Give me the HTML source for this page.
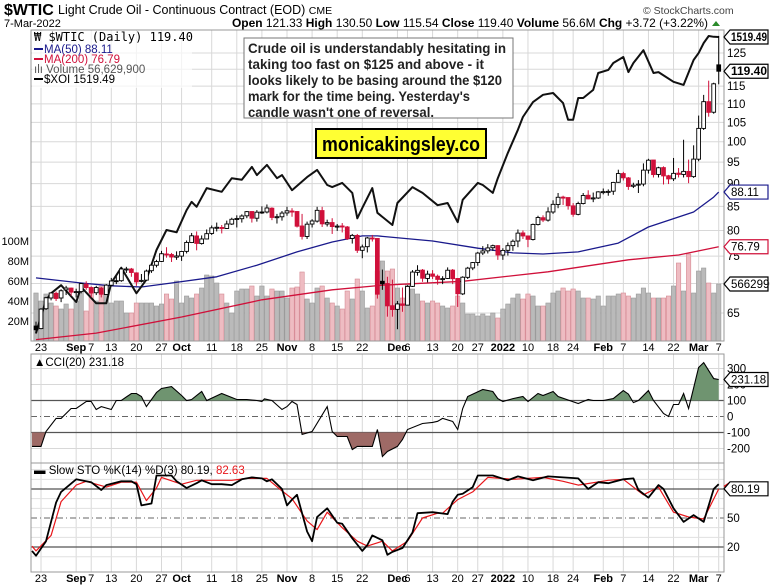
<!DOCTYPE html>
<html><head><meta charset="utf-8"><style>
html,body{margin:0;padding:0;background:#fff;}
svg{display:block;font-family:"Liberation Sans",sans-serif;}
</style></head><body>
<svg id="chart" width="770" height="586" viewBox="0 0 770 586" xmlns="http://www.w3.org/2000/svg">
<rect x="0" y="0" width="770" height="586" fill="#fff"/>
<g>
<text x="4" y="15" font-size="16" font-weight="bold">$WTIC</text>
<text x="58" y="14" font-size="12.5">Light Crude Oil - Continuous Contract (EOD) <tspan font-size="10.5">CME</tspan></text>
<text x="4" y="27" font-size="11">7-Mar-2022</text>
<text x="643" y="14" font-size="10.5" fill="#444">© StockCharts.com</text>
<text x="232" y="27" font-size="12" textLength="476" lengthAdjust="spacingAndGlyphs"><tspan font-weight="bold">Open</tspan> 121.33 <tspan font-weight="bold">High</tspan> 130.50 <tspan font-weight="bold">Low</tspan> 115.54 <tspan font-weight="bold">Close</tspan> 119.40 <tspan font-weight="bold">Volume</tspan> 56.6M <tspan font-weight="bold">Chg</tspan> +3.72 (+3.22%)</text>
<polygon points="712,26 720,26 716,21" fill="#2a8a2a"/>
</g>
<g id="grid"></g>
<g id="main"></g>
<g id="cci"></g>
<g id="sto"></g>
<g id="axes"></g>
<g font-size="11.5">
<rect x="32" y="31" width="160" height="57" fill="#fff" fill-opacity="0.7"/>
<text x="34" y="41" font-family="'DejaVu Sans Mono','Liberation Mono',monospace" font-size="12">₩ $WTIC (Daily) 119.40</text>
<line x1="34" y1="49" x2="43" y2="49" stroke="#1a1a8c" stroke-width="2"/>
<text x="44" y="53" fill="#1a1a8c">MA(50) 88.11</text>
<line x1="34" y1="59" x2="43" y2="59" stroke="#d0103a" stroke-width="2"/>
<text x="44" y="63" fill="#d0103a">MA(200) 76.79</text>
<text x="34" y="73" fill="#555">ılı Volume 56,629,900</text>
<line x1="34" y1="79" x2="43" y2="79" stroke="#000" stroke-width="2"/>
<text x="44" y="83">$XOI 1519.49</text>
</g>
<g>
<rect x="244" y="38" width="269" height="80" fill="#fff" stroke="#777" stroke-width="1"/>
<g font-size="14" font-weight="bold" fill="#222">
<text x="248" y="53" textLength="258" lengthAdjust="spacingAndGlyphs">Crude oil is understandably hesitating in</text>
<text x="248" y="69" textLength="236" lengthAdjust="spacingAndGlyphs">taking too fast on $125 and above - it</text>
<text x="248" y="85" textLength="254" lengthAdjust="spacingAndGlyphs">looks likely to be basing around the $120</text>
<text x="248" y="101" textLength="222" lengthAdjust="spacingAndGlyphs">mark for the time being. Yesterday's</text>
<text x="248" y="117" textLength="186" lengthAdjust="spacingAndGlyphs">candle wasn't one of reversal.</text>
</g>
</g>
<g>
<rect x="316" y="129" width="170" height="29" fill="#ffff33" stroke="#000" stroke-width="2"/>
<text x="401" y="151" font-size="20" font-weight="bold" text-anchor="middle" textLength="158" lengthAdjust="spacingAndGlyphs">monicakingsley.co</text>
</g>
</svg>
<script>
// ---- data ----
const tickIdx = [1,8,11,15,20,25,29,35,40,45,50,55,60,65,72,74,79,84,88,93,98,103,107,113,117,122,127,132,136];
const tickLabels = ["23","Sep","7","13","20","27","Oct","11","18","25","Nov","8","15","22","Dec","6","13","20","27","2022","10","18","24","Feb","7","14","22","Mar","7"];
const tickBold = [0,1,0,0,0,0,1,0,0,0,1,0,0,0,1,0,0,0,0,1,0,0,0,1,0,0,0,1,0];
const opens = [62.9,62.5,65.7,67.5,68.3,67.5,68.9,69.2,68.5,68.6,69.9,69.3,68.4,69.2,68.1,69.7,70.5,70.5,72.6,72.6,71.9,70.4,70.6,72.3,73.3,74.0,75.4,75.3,74.8,75.0,75.9,77.6,78.9,77.4,78.3,79.4,80.5,80.6,80.4,81.3,82.3,82.4,83.0,83.9,82.5,83.8,83.8,84.6,82.7,82.8,83.6,84.0,83.9,80.9,78.8,81.3,81.9,84.1,81.3,81.6,80.8,80.9,80.7,78.4,79.0,76.1,76.8,78.5,78.4,70.4,70.0,66.2,65.6,66.5,66.3,69.5,72.0,72.4,70.9,71.7,71.3,70.7,70.9,72.4,70.9,68.2,71.1,72.8,73.8,75.6,76.0,76.6,77.0,75.2,76.1,77.0,77.9,79.5,78.9,78.2,81.2,82.6,82.1,83.8,85.4,87.0,86.9,85.1,83.3,85.6,87.4,86.6,86.8,88.2,88.2,88.3,90.3,92.3,91.3,89.4,89.7,89.9,93.1,95.5,92.1,93.7,91.8,91.1,92.4,92.1,92.8,91.6,95.7,103.4,110.6,107.7,121.33];
const highs = [63.6,65.8,67.7,68.5,68.6,69.0,69.6,69.3,69.1,70.1,70.4,69.5,69.6,69.4,69.9,71.0,71.3,72.8,73.0,72.8,72.0,71.7,72.5,73.6,74.3,76.0,76.7,75.6,75.9,76.0,78.0,79.5,79.8,79.0,80.2,81.0,81.6,81.1,82.0,82.6,83.1,83.3,84.0,83.9,84.2,85.0,85.4,84.8,83.4,84.0,84.9,84.6,84.0,83.4,81.8,82.3,84.9,84.9,82.2,82.5,81.3,81.5,80.9,79.3,79.3,77.2,78.7,79.1,78.4,72.5,71.2,70.7,67.0,69.3,69.7,72.4,73.3,72.6,72.3,72.4,71.6,71.3,72.9,72.6,70.9,71.3,73.0,73.9,75.8,76.9,77.3,77.2,77.1,76.5,77.6,78.2,80.2,80.0,79.0,81.4,83.0,83.1,84.8,86.3,87.9,87.3,86.9,85.7,86.0,87.9,88.5,88.0,88.3,88.9,88.7,90.4,93.2,92.7,91.5,90.2,90.8,94.7,95.8,95.5,93.9,94.0,92.0,96.0,93.6,100.5,95.6,99.1,106.8,112.5,116.6,116.0,130.5];
const lows = [61.7,62.4,65.5,67.1,67.0,66.8,68.0,67.9,67.6,68.3,68.9,67.6,68.0,67.6,68.0,69.5,69.9,70.3,71.9,71.2,69.6,70.2,70.5,71.9,72.9,73.9,74.7,73.9,74.3,74.1,75.5,77.5,76.1,77.2,78.2,79.1,79.8,79.4,80.3,81.1,80.6,81.6,82.5,81.6,81.8,83.4,83.5,82.1,81.4,82.0,83.0,82.8,80.6,78.2,78.3,80.6,81.6,80.7,80.8,79.3,79.9,79.6,78.1,77.4,75.6,74.6,75.7,77.8,67.4,68.9,64.4,64.4,62.4,65.2,66.5,69.4,71.4,70.3,70.2,70.8,69.8,69.9,70.8,69.9,66.0,68.0,70.8,72.4,73.2,75.2,75.5,76.0,74.3,74.3,75.1,76.0,76.7,78.3,76.7,78.0,81.0,81.7,81.8,83.4,84.6,85.3,84.3,82.8,83.1,85.4,86.5,85.9,86.6,87.6,87.3,87.5,90.2,90.7,88.6,89.0,87.9,89.4,92.3,91.4,91.4,89.8,89.9,90.6,91.4,91.4,90.1,91.3,95.2,103.0,106.5,107.3,115.54];
const closes = [62.32,65.64,67.54,68.36,67.42,68.74,69.21,68.50,68.59,69.99,69.29,68.35,69.30,68.14,69.72,70.45,70.46,72.61,72.61,71.97,70.29,70.56,72.23,73.30,73.98,75.45,75.29,74.83,75.03,75.88,77.62,78.93,77.43,78.30,79.35,80.52,80.64,80.44,81.31,82.28,82.44,82.96,83.87,82.50,83.76,83.76,84.65,82.66,82.81,83.57,84.05,83.91,80.86,78.81,81.27,81.93,84.15,81.34,81.59,80.79,80.88,80.76,78.36,79.01,76.10,76.75,78.50,78.39,68.15,69.95,66.18,65.57,66.50,66.26,69.49,72.05,72.36,70.94,71.67,71.29,70.73,70.87,72.38,70.86,68.23,71.12,72.76,73.79,75.57,75.98,76.56,76.99,75.21,76.08,76.99,77.85,79.46,78.90,78.23,81.22,82.64,82.12,83.82,85.43,86.96,86.90,85.14,83.31,85.60,87.35,86.61,86.82,88.15,88.20,88.26,90.27,92.31,91.32,89.36,89.66,89.88,93.10,95.46,92.07,93.66,91.76,91.07,92.35,92.10,92.81,91.59,95.72,103.41,110.60,107.67,115.68,119.40];
const volumes = [48,40,47,38,35,32,37,32,40,50,30,53,40,55,47,38,40,40,28,28,38,38,38,38,35,37,47,42,60,38,45,43,47,53,66,65,58,47,38,28,50,52,52,55,45,55,45,52,50,50,43,53,54,69,42,38,53,55,43,38,35,32,50,42,62,50,33,35,70,80,70,72,53,43,57,52,47,40,38,40,38,35,33,35,45,38,27,27,25,27,25,28,23,32,37,43,47,42,47,45,35,35,38,48,50,53,50,52,50,43,43,42,45,35,45,45,47,48,45,43,47,53,48,43,43,43,45,55,78,50,87,48,70,73,58,48,57];
const ma50Idx = [0,9,15,21,27,36,44,52,59,65,68,79,88,95,101,108,116,122,131,135,136];
const ma50Vals = [71.0,70.1,69.6,69.4,70.1,71.2,73.3,75.8,77.7,78.9,78.9,77.9,76.5,75.6,75.4,75.8,77.5,80.7,83.8,87.0,88.11];
const ma200Idx = [0,12,29,45,59,69,85,102,118,128,136];
const ma200Vals = [60.8,61.8,64.35,67.2,68.9,69.7,70.4,72.1,74.3,75.2,76.79];
const xoiIdx = [0,2,3,5,8,9,12,14,15,17,20,22,24,26,28,30,31,32,34,37,39,41,43,44,46,48,49,51,54,56,58,59,61,63,64,65,67,68,71,72,75,77,80,82,84,85,88,89,91,92,94,96,97,99,101,103,105,106,107,108,109,111,112,114,115,117,118,119,121,123,124,127,129,131,132,133,134,135,136];
const xoiVals = [949,1000,1011,1024,997,1021,995,995,1028,1053,1011,1033,1083,1118,1114,1154,1169,1160,1195,1188,1214,1211,1236,1220,1240,1214,1220,1191,1216,1230,1201,1197,1205,1186,1139,1158,1195,1149,1127,1167,1197,1186,1163,1167,1132,1173,1205,1201,1186,1214,1264,1311,1338,1370,1386,1390,1368,1332,1332,1379,1379,1397,1435,1442,1458,1472,1437,1458,1488,1435,1437,1415,1408,1465,1481,1505,1522,1520,1519.49];
const cciIdx = [-1,1,2,4,5,7,8,10,11,12,13,15,16,17,19,20,21,22,24,25,27,29,30,31,33,34,37,40,42,44,45,45.5,47,49,50,51,52,53,55,58,59,60,62,63,64,67,68,69,70,72,73,74,77,79,80,81,83,84,85,86,89,91,92,93,95,97,98,100,101,103,104,108,110,111,113,115,117,118,119,120,122,123,125,126,127,128,129,130,132,133,135,136];
const cciVals = [-187,-187,-94,-12,-12,50,50,94,94,44,62,44,100,100,144,144,125,62,150,175,187,131,100,106,156,100,144,106,106,100,94,110,100,44,62,94,75,-112,-94,62,-94,-125,-125,-206,-187,-187,-81,-250,-219,-187,-144,-81,-44,-37,-30,-12,-31,-81,50,125,169,156,112,94,112,125,94,144,131,156,125,81,106,100,100,112,162,140,87,100,162,100,19,0,75,75,144,50,306,337,237,231.18];
const stoKIdx = [-1,0,2,4,5,8,9,11,13,14,17,19,20,21,23,24,27,28,30,32,33,35,36,37,39,41,43,45,46,47,49,50,51,52,54,55,56,58,60,61,63,65,66,67,69,70,71,73,75,76,79,82,83,84,85,87,88,91,94,96,99,102,108,110,112,114,117,119,120,122,124,125,127,129,131,133,135,136];
const stoKVals = [16,11,26,66,77,90,89,87,79,84,88,88,85,63,65,94,94,88,81,86,89,85,85,85,84,90,92,91,88,90,80,63,69,74,36,26,51,60,45,44,29,16,22,32,27,12,15,19,35,55,56,54,67,74,75,82,94,94,89,93,89,93,91,80,87,86,90,91,79,71,84,80,60,46,53,46,80,85,80.19];
const stoDIdx = [-1,0,3,5,8,10,14,17,20,22,24,25,29,32,36,39,42,46,49,51,54,56,58,61,64,66,69,71,74,77,80,81,84,87,90,95,101,105,108,114,117,121,124,127,130,133,136];
const stoDVals = [21,16,32,67,84,88,82,87,87,68,81,92,85,89,89,89,91,91,78,70,47,38,56,40,26,21,26,16,26,50,55,55,69,77,92,90,92,88,84,89,90,74,82,56,51,49,80,82.63];

// ---- scales ----
const X = i => 36 + 5.02 * i;
const Yp = p => 313 - 397.6 * Math.log(p / 65);
const Yv = v => 341 - v;
const Yx = v => 37 - 629 * Math.log(v / 1519.49);
const Yc = c => 416.5 - 0.16 * c;
const Ys = s => 489 - (s - 80) * 0.967;

const NS = "http://www.w3.org/2000/svg";
function mk(tag, attrs, parent) {
  const el = document.createElementNS(NS, tag);
  for (const k in attrs) el.setAttribute(k, attrs[k]);
  parent.appendChild(el);
  return el;
}
const gGrid = document.getElementById('grid');
const gMain = document.getElementById('main');
const gCci = document.getElementById('cci');
const gSto = document.getElementById('sto');
const gAxes = document.getElementById('axes');

const L = 31, R = 724;
const panels = [[30, 341], [354, 463], [463, 572]];

tickIdx.forEach((ti, k) => {
  panels.forEach(pp => {
    const ln = mk('line', {x1: X(ti), x2: X(ti), y1: pp[0], y2: pp[1], stroke: '#d8d8d8', 'stroke-width': 1}, gGrid);
    
    
  });
});
const priceTicks = [65,70,75,80,85,90,95,100,105,110,115,120,125];
const priceLabelShow = [1,0,1,1,1,1,1,1,1,1,1,0,1];
priceTicks.forEach((p, k) => {
  const ln = mk('line', {x1: L, x2: R, y1: Yp(p), y2: Yp(p), stroke: '#d8d8d8', 'stroke-width': 1}, gGrid);
  
  
  if (priceLabelShow[k]) {
    const t = mk('text', {x: 727, y: Yp(p) + 4, 'font-size': 11.5}, gAxes);
    t.textContent = p;
    
    
  }
});
const volTicks = [20,40,60,80,100];
volTicks.forEach(v => {
  const t = mk('text', {x: 29, y: Yv(v) + 4, 'font-size': 11, 'text-anchor': 'end'}, gAxes);
  t.textContent = v + 'M';
  
  
});
volumes.forEach((v, i) => {
  const down = i > 0 && closes[i] < closes[i-1];
  const r = mk('rect', {x: X(i) - 2.2, y: Yv(v), width: 4.4, height: v, fill: down ? '#eebcc2' : '#bababa', stroke: down ? '#d68a94' : '#9a9a9a', 'stroke-width': 0.6}, gMain);
  
  
});
function poly(idx, vals, yf, color, w, parent, name) {
  const pts = idx.map((ix, k) => X(ix).toFixed(1) + ',' + yf(vals[k]).toFixed(1)).join(' ');
  const pl = mk('polyline', {points: pts, fill: 'none', stroke: color, 'stroke-width': w, 'stroke-linejoin': 'round'}, parent);
  
  
  return pl;
}
const defs = mk('defs', {}, document.getElementById('chart'));
const cp = mk('clipPath', {id: 'mainclip'}, defs);
mk('rect', {x: L, y: 30, width: R - L, height: 311}, cp);
const gClip = mk('g', {'clip-path': 'url(#mainclip)'}, gMain);


poly(ma200Idx, ma200Vals, Yp, '#d0103a', 1.3, gClip, 'ma200-line');
poly(ma50Idx, ma50Vals, Yp, '#1a1a8c', 1.3, gClip, 'ma50-line');
poly(xoiIdx, xoiVals, Yx, '#111', 2, gClip, 'xoi-line');
closes.forEach((c, i) => {
  const o = opens[i];
  const col = (i > 0 && c < closes[i-1]) ? '#d0103a' : '#000';
  const x = X(i);
  const w = mk('line', {x1: x, x2: x, y1: Yp(highs[i]), y2: Yp(lows[i]), stroke: col, 'stroke-width': 1}, gClip);
  
  
  const top = Yp(Math.max(o, c)), bot = Yp(Math.min(o, c));
  const b = mk('rect', {x: x - 1.9, y: top, width: 3.8, height: Math.max(1, bot - top), fill: c < o ? col : '#fff', stroke: col, 'stroke-width': 0.9}, gClip);
  
  
});
const cciLevels = [300,200,100,0,-100,-200];
cciLevels.forEach(l => {
  const strong = (l === 100 || l === -100);
  const ln = mk('line', {x1: L, x2: R, y1: Yc(l), y2: Yc(l), stroke: strong ? '#555' : (l === 0 ? '#666' : '#d8d8d8'), 'stroke-width': strong ? 1.3 : 1, 'stroke-dasharray': l === 0 ? '6,3,1,3' : 'none'}, gCci);
  
  
  const t = mk('text', {x: 727, y: Yc(l) + 4, 'font-size': 11.5}, gAxes);
  t.textContent = l;
  
  
});
const cpA = mk('clipPath', {id: 'cciUp'}, defs);
mk('rect', {x: L, y: 354, width: R - L, height: Yc(100) - 354}, cpA);
const cpB = mk('clipPath', {id: 'cciDn'}, defs);
mk('rect', {x: L, y: Yc(-100), width: R - L, height: 463 - Yc(-100)}, cpB);
const cciPts = cciIdx.map((ix, k) => X(Math.max(ix, -0.8)).toFixed(1) + ',' + Yc(cciVals[k]).toFixed(1));
const firstX = X(Math.max(cciIdx[0], -0.8)), lastX = X(cciIdx[cciIdx.length-1]);
const fillUp = mk('polygon', {points: cciPts.join(' ') + ' ' + lastX + ',' + Yc(100) + ' ' + firstX + ',' + Yc(100), fill: '#6f9470', 'clip-path': 'url(#cciUp)'}, gCci);


const fillDn = mk('polygon', {points: cciPts.join(' ') + ' ' + lastX + ',' + Yc(-100) + ' ' + firstX + ',' + Yc(-100), fill: '#9e6a66', 'clip-path': 'url(#cciDn)'}, gCci);


const cciLine = mk('polyline', {points: cciPts.join(' '), fill: 'none', stroke: '#000', 'stroke-width': 1.1}, gCci);


for (let s = 10; s <= 100; s += 10) {
  const strong = (s === 80 || s === 20);
  const ln = mk('line', {x1: L, x2: R, y1: Ys(s), y2: Ys(s), stroke: strong ? '#555' : (s === 50 ? '#666' : '#e0e0e0'), 'stroke-width': strong ? 1.3 : 1, 'stroke-dasharray': s === 50 ? '6,3,1,3' : 'none'}, gSto);
  
  
}
const stoLabels = [50, 20];
stoLabels.forEach(s => {
  const t = mk('text', {x: 727, y: Ys(s) + 4, 'font-size': 11.5}, gAxes);
  t.textContent = s;
  
  
});
poly(stoDIdx.map(v => Math.max(v, -0.8)), stoDVals, Ys, '#e8161a', 1.2, gSto, 'stoch-d-line');
poly(stoKIdx.map(v => Math.max(v, -0.8)), stoKVals, Ys, '#000', 1.8, gSto, 'stoch-k-line');
panels.forEach(pp => {
  const r = mk('rect', {x: L, y: pp[0], width: R - L, height: pp[1] - pp[0], fill: 'none', stroke: '#999', 'stroke-width': 1}, gAxes);
  
  
});
[351, 582].forEach(yy => {
  tickIdx.forEach((ti, k) => {
    const t = mk('text', {x: X(ti), y: yy, 'font-size': 11, 'text-anchor': 'middle', 'font-weight': tickBold[k] ? 'bold' : 'normal'}, gAxes);
    t.textContent = tickLabels[k];
    
    
  });
});
function marker(y, label, stroke, bold, name) {
  const g = mk('g', {}, gAxes);
  
  
  mk('polygon', {points: `724,${y} 730,${y-7} 768,${y-7} 768,${y+7} 730,${y+7}`, fill: '#fff', stroke: stroke, 'stroke-width': 1.2}, g);
  const attrs = {x: 731, y: y + 4, 'font-size': 11.5, 'font-weight': bold ? 'bold' : 'normal'};
  if (bold) { attrs.textLength = 36; attrs.lengthAdjust = 'spacingAndGlyphs'; }
  const t = mk('text', attrs, g);
  t.textContent = label;
}
marker(Yx(xoiVals[xoiVals.length-1]), '1519.49', '#000', true, 'xoi-value-marker');
marker(Yp(closes[closes.length-1]), '119.40', '#000', true, 'price-value-marker');
marker(Yp(ma50Vals[ma50Vals.length-1]), '88.11', '#1a1a8c', false, 'ma50-value-marker');
marker(Yp(ma200Vals[ma200Vals.length-1]), '76.79', '#d0103a', false, 'ma200-value-marker');
marker(Yv(volumes[volumes.length-1]), '5662990', '#000', false, 'volume-value-marker');
marker(Yc(cciVals[cciVals.length-1]), '231.18', '#000', false, 'cci-value-marker');
const dLine = mk('polyline', {points: `724,${Ys(82.63)} 730,${Ys(82.63)-4} 768,${Ys(82.63)-4}`, fill: 'none', stroke: '#e8161a', 'stroke-width': 1.5}, gAxes);


marker(Ys(stoKVals[stoKVals.length-1]), '80.19', '#000', false, 'stoch-k-value-marker');
const cciLeg = mk('text', {x: 34, y: 366, 'font-size': 11.5}, gAxes);
cciLeg.textContent = '▲CCI(20) 231.18';


const stoLeg = mk('text', {x: 34, y: 474, 'font-size': 11.5}, gAxes);
stoLeg.innerHTML = '<tspan font-weight="bold">▬</tspan> Slow STO %K(14) %D(3) 80.19, <tspan fill="#e8161a">82.63</tspan>';


</script>
</body></html>
